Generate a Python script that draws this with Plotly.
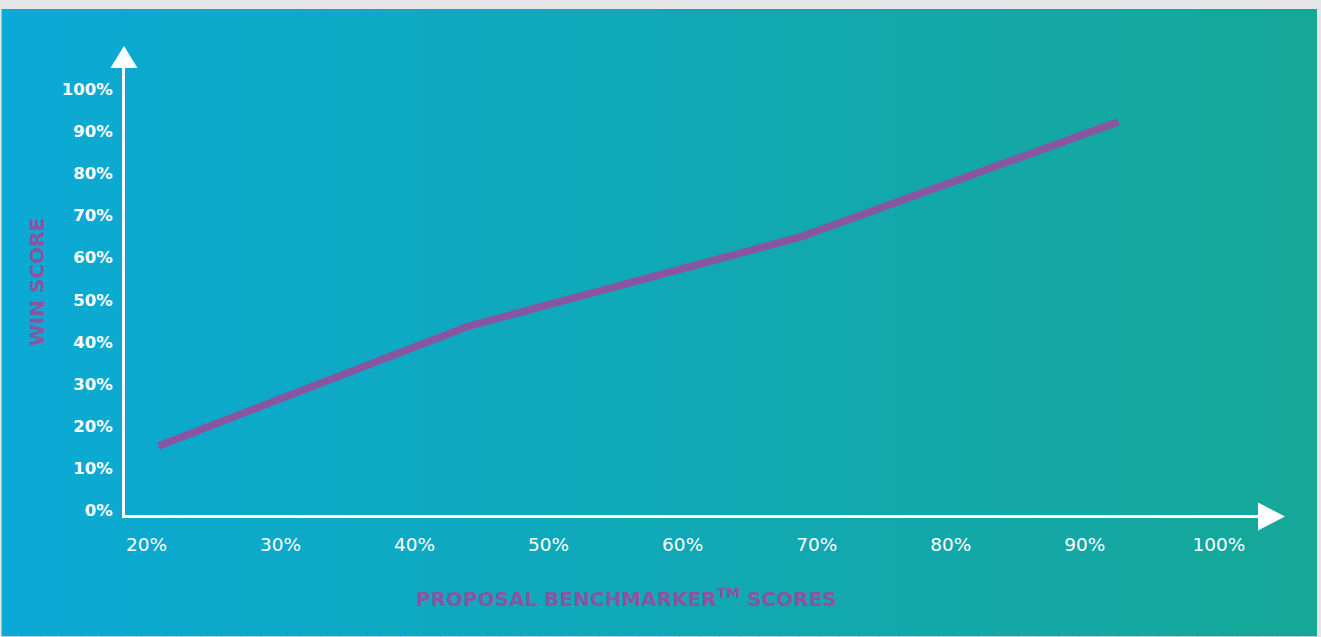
import plotly.graph_objects as go

# ---- data ----
benchmarker_scores = [20.9, 43.9, 68.8, 92.5]
win_scores = [15.3, 43.6, 64.9, 92.2]
x_tick_vals = [20, 30, 40, 50, 60, 70, 80, 90, 100]
x_tick_text = ["20%", "30%", "40%", "50%", "60%", "70%", "80%", "90%", "100%"]
y_tick_vals = [0, 10, 20, 30, 40, 50, 60, 70, 80, 90, 100]
y_tick_text = ["0%", "10%", "20%", "30%", "40%", "50%", "60%", "70%", "80%", "90%", "100%"]

W, H = 1321, 637
L, R, T, B = 124.5, 1258, 68, 515.5  # plot area in pixels
PW, PH = R - L, B - T

def px(x):
    return (x - L) / PW

def py(y):
    return (B - y) / PH

PURPLE = "#8A55A0"
C_LEFT = (11, 169, 213)
C_RIGHT = (21, 168, 152)
FONT = "DejaVu Sans"

shapes = []
# gradient background strips
x_start, x_end, y_top = 1, 1317, 9
n = 66
step = (x_end - x_start) / n
for i in range(n):
    t = (i + 0.5) / n
    c = tuple(round(C_LEFT[k] + (C_RIGHT[k] - C_LEFT[k]) * t) for k in range(3))
    x_hi = min(x_start + (i + 1) * step + 0.8, x_end)
    shapes.append(dict(type="rect", xref="paper", yref="paper", layer="below",
                       x0=px(x_start + i * step), x1=px(x_hi),
                       y0=py(H), y1=py(y_top), line=dict(width=0),
                       fillcolor="rgb(%d,%d,%d)" % c))

# arrow heads
shapes.append(dict(type="path", xref="paper", yref="paper",
                   path="M %f %f L %f %f L %f %f Z" % (px(110), py(68), px(123.5), py(46), px(137), py(68)),
                   fillcolor="white", line=dict(width=0)))
shapes.append(dict(type="path", xref="paper", yref="paper",
                   path="M %f %f L %f %f L %f %f Z" % (px(1258), py(503), px(1285), py(517), px(1258), py(531)),
                   fillcolor="white", line=dict(width=0)))

fig = go.Figure()
fig.add_trace(go.Scatter(x=benchmarker_scores, y=win_scores, mode="lines",
                         line=dict(color=PURPLE, width=7.5), hoverinfo="skip"))

px_per_x = 13.41
px_per_y = 4.22
x0 = 20 - (146 - L) / px_per_x
y0 = -(B - 511) / px_per_y

fig.update_layout(
    width=W, height=H,
    margin=dict(l=L, r=W - R, t=T, b=H - B, pad=0),
    paper_bgcolor="#E4E5E7",
    plot_bgcolor="rgba(0,0,0,0)",
    showlegend=False,
    shapes=shapes,
    xaxis=dict(range=[x0, x0 + PW / px_per_x], tickvals=x_tick_vals, ticktext=x_tick_text,
               showgrid=False, zeroline=False, showline=True, linecolor="white", linewidth=3,
               ticks="", ticklabelstandoff=11,
               tickfont=dict(family=FONT, size=18.5, color="white")),
    yaxis=dict(range=[y0, y0 + PH / px_per_y], tickvals=y_tick_vals, ticktext=y_tick_text,
               showgrid=False, zeroline=False, showline=True, linecolor="white", linewidth=3,
               ticks="", ticklabelstandoff=6,
               tickfont=dict(family=FONT, size=16.5, color="white", weight="bold")),
    annotations=[
        dict(xref="paper", yref="paper", x=px(626), y=py(599), xanchor="center", yanchor="middle",
             text="PROPOSAL BENCHMARKER<sup style='font-size:90%'>TM</sup> SCORES", showarrow=False,
             font=dict(family=FONT, size=20, color=PURPLE, weight="bold")),
        dict(xref="paper", yref="paper", x=px(36), y=py(283), xanchor="center", yanchor="middle",
             text="WIN SCORE", textangle=-90, showarrow=False,
             font=dict(family=FONT, size=20, color=PURPLE, weight="bold")),
    ],
)

fig.write_html("out.html", config={"displayModeBar": False},
               post_script="document.body.style.margin='0px';")
